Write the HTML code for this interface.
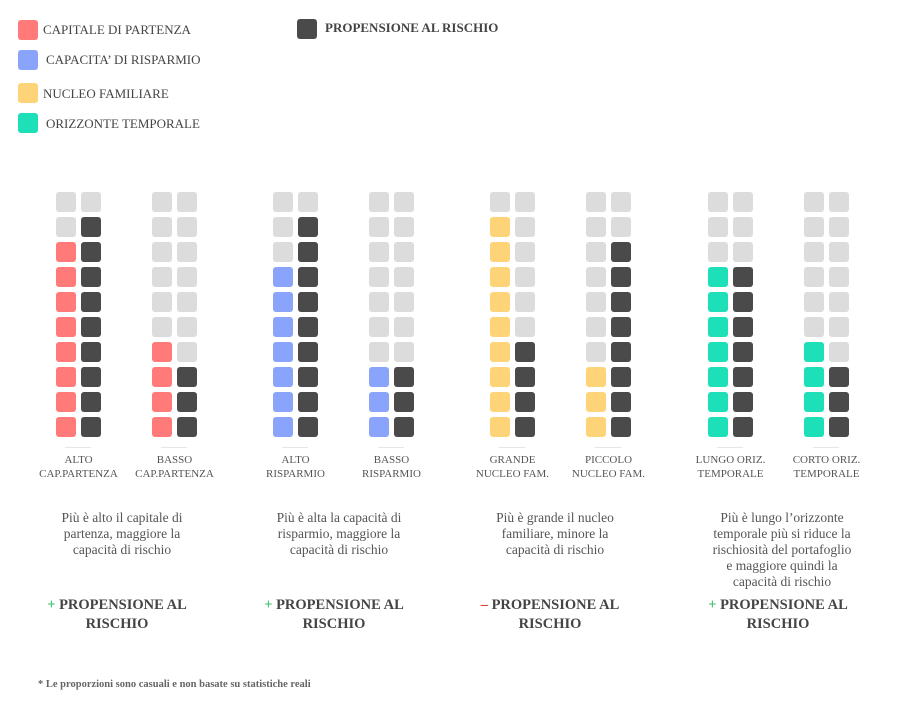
<!DOCTYPE html>
<html><head><meta charset="utf-8">
<style>
body{margin:0;width:915px;height:701px;background:#fff;position:relative;overflow:hidden;font-family:"Liberation Serif",serif;color:#444}
.abs{position:absolute}
.sq{position:absolute;width:20px;height:20px;border-radius:3px}
.leg{position:absolute;font-size:13px;color:#444;white-space:nowrap}
.lab{position:absolute;width:110px;text-align:center;font-size:11px;line-height:14px;color:#555}
.desc{position:absolute;width:200px;text-align:center;font-size:13.5px;line-height:16px;color:#555;white-space:nowrap}
.head{position:absolute;width:200px;text-align:center;font-size:14.5px;line-height:19px;font-weight:bold;color:#444}
.tick{position:absolute;width:26px;height:1px;background:#e6e6e6}
</style></head><body>
<div class="sq" style="left:18px;top:20px;background:#ff7a78"></div>
<div class="leg" style="left:43px;top:22px">CAPITALE DI PARTENZA</div>
<div class="sq" style="left:18px;top:50px;background:#8aa4fb"></div>
<div class="leg" style="left:46px;top:52px">CAPACITA’ DI RISPARMIO</div>
<div class="sq" style="left:18px;top:83px;background:#ffd479"></div>
<div class="leg" style="left:43px;top:86px">NUCLEO FAMILIARE</div>
<div class="sq" style="left:18px;top:113px;background:#1de0b8"></div>
<div class="leg" style="left:46px;top:116px">ORIZZONTE TEMPORALE</div>
<div class="sq" style="left:297px;top:19px;background:#4a4a4a"></div>
<div class="leg" style="left:325px;top:20px;font-weight:bold">PROPENSIONE AL RISCHIO</div>

<div id="chart"></div>

<div class="desc" style="left:22px;top:510px">Più è alto il capitale di<br>partenza, maggiore la<br>capacità di rischio</div>
<div class="desc" style="left:239px;top:510px">Più è alta la capacità di<br>risparmio, maggiore la<br>capacità di rischio</div>
<div class="desc" style="left:455px;top:510px">Più è grande il nucleo<br>familiare, minore la<br>capacità di rischio</div>
<div class="desc" style="left:682px;top:510px">Più è lungo l’orizzonte<br>temporale più si riduce la<br>rischiosità del portafoglio<br>e maggiore quindi la<br>capacità di rischio</div>

<div class="head" style="left:17px;top:596px"><span style="color:#3cbf6a">+</span> PROPENSIONE AL RISCHIO</div>
<div class="head" style="left:234px;top:596px"><span style="color:#3cbf6a">+</span> PROPENSIONE AL RISCHIO</div>
<div class="head" style="left:450px;top:596px"><span style="color:#e0403a">–</span> PROPENSIONE AL RISCHIO</div>
<div class="head" style="left:678px;top:596px"><span style="color:#3cbf6a">+</span> PROPENSIONE AL RISCHIO</div>

<div class="abs" style="left:38px;top:679px;font-size:10.5px;font-weight:bold;color:#666">* Le proporzioni sono casuali e non basate su statistiche reali</div>

<script>
const categories = ["ALTO|CAP.PARTENZA","BASSO|CAP.PARTENZA","ALTO|RISPARMIO","BASSO|RISPARMIO","GRANDE|NUCLEO FAM.","PICCOLO|NUCLEO FAM.","LUNGO ORIZ.|TEMPORALE","CORTO ORIZ.|TEMPORALE"];
const factorValues = [8,4,7,3,9,3,7,4];
const riskValues = [9,3,9,3,4,8,7,3];
const factorColors = ["#ff7a78","#ff7a78","#8aa4fb","#8aa4fb","#ffd479","#ffd479","#1de0b8","#1de0b8"];
const colX = [56,152,273,369,490,586,708,804];
const ROWS = 10, TOP = 192, STEP = 25;
const chart = document.getElementById('chart');
function rowY(i){ return TOP + i*STEP; }
categories.forEach((c,k)=>{
  for(let col=0; col<2; col++){
    const filled = col===0 ? factorValues[k] : riskValues[k];
    const color = col===0 ? factorColors[k] : "#4a4a4a";
    for(let r=0;r<ROWS;r++){
      const d=document.createElement('div');
      d.className='sq';
      d.style.left=(colX[k]+col*25)+'px';
      d.style.top=rowY(r)+'px';
      d.style.background = (ROWS-r) <= filled ? color : "#dcdcdc";
      
      
      chart.appendChild(d);
    }
  }
  const t=document.createElement('div');
  t.className='tick';
  t.style.left=(colX[k]+9)+'px';
  t.style.top='447px';
  
  
  chart.appendChild(t);
  const l=document.createElement('div');
  l.className='lab';
  l.style.left=(colX[k]+22.5-55)+'px';
  l.style.top='453px';
  l.innerHTML=c.split('|').join('<br>');
  
  
  chart.appendChild(l);
});
</script>
</body></html>
